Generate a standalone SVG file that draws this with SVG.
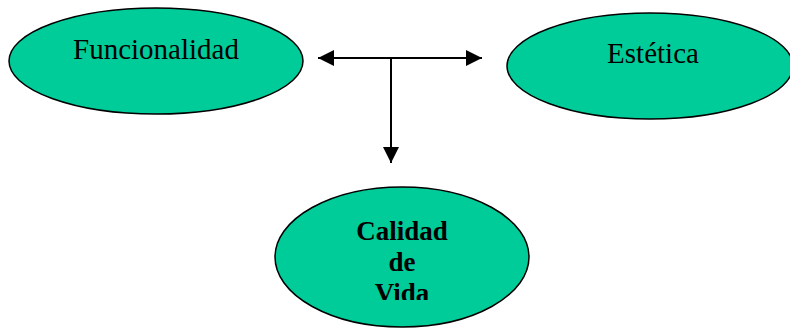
<svg xmlns="http://www.w3.org/2000/svg" width="790" height="328" viewBox="0 0 790 328">
<style>
.node{fill:#00CC99;stroke:#000;stroke-width:1.5}
.lbl{font-family:"Liberation Serif",serif;fill:#000}
.reg{font-size:29px}
.bold{font-size:27px;font-weight:bold}
.con{stroke:#000;stroke-width:2;fill:none}
</style>
<defs>
<marker id="ah" markerWidth="8" markerHeight="8" refX="7" refY="3.5" orient="auto" markerUnits="strokeWidth" viewBox="0 0 7 7">
<path d="M0,0 L7,3.5 L0,7 Z" fill="#000"/>
</marker>
<clipPath id="cv"><rect x="300" y="200" width="200" height="100"/></clipPath>
</defs>
<g id="funcionalidad">
<ellipse class="node" cx="156" cy="61" rx="147" ry="53"/>
<text class="lbl reg" x="156" y="59" text-anchor="middle">Funcionalidad</text>
</g>
<g id="estetica">
<ellipse class="node" cx="650" cy="66" rx="143" ry="53"/>
<text class="lbl reg" x="653" y="63" text-anchor="middle">Estética</text>
</g>
<g id="calidad">
<ellipse class="node" cx="402" cy="257" rx="127" ry="70"/>
<g clip-path="url(#cv)">
<text class="lbl bold" x="402" y="240" text-anchor="middle">Calidad</text>
<text class="lbl bold" x="402" y="271" text-anchor="middle">de</text>
<text class="lbl bold" x="402" y="302" text-anchor="middle">Vida</text>
</g>
</g>
<g id="connectors">
<line class="con" x1="392" y1="58" x2="318" y2="58" marker-end="url(#ah)"/>
<line class="con" x1="392" y1="58" x2="482" y2="58" marker-end="url(#ah)"/>
<line class="con" x1="391" y1="58" x2="391" y2="163" marker-end="url(#ah)"/>
</g>
</svg>
